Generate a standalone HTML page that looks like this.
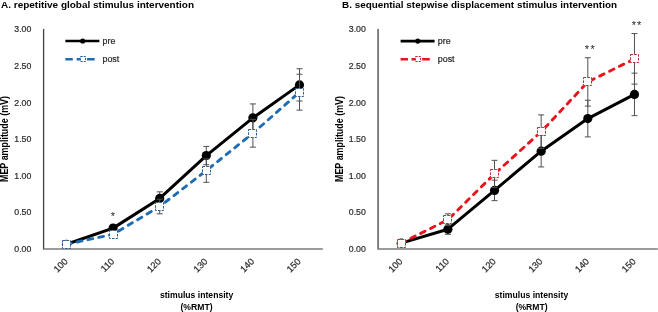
<!DOCTYPE html>
<html><head><meta charset="utf-8"><style>
html,body{margin:0;padding:0;background:#fff;width:658px;height:312px;overflow:hidden}
svg{display:block;will-change:transform}
.t{font-family:"Liberation Sans",sans-serif;font-size:8.9px;fill:#2a2a2a;stroke:#2a2a2a;stroke-width:0.22px}
.ty{font-family:"Liberation Sans",sans-serif;font-size:9.2px;fill:#2a2a2a;stroke:#2a2a2a;stroke-width:0.22px}
.st{font-family:"Liberation Sans",sans-serif;font-size:11px;fill:#222}
.tx{font-family:"Liberation Sans",sans-serif;font-size:9.2px;fill:#2a2a2a;stroke:#2a2a2a;stroke-width:0.22px}
.by{font-family:"Liberation Sans",sans-serif;font-size:10.1px;font-weight:bold;fill:#000}
.b{font-family:"Liberation Sans",sans-serif;font-size:9.8px;font-weight:bold;fill:#000}
</style></head><body>
<svg width="658" height="312" viewBox="0 0 658 312">
<line x1="43.6" y1="28.9" x2="43.6" y2="249.5" stroke="#454545" stroke-width="1.35"/>
<line x1="43.2" y1="249.0" x2="322.8" y2="249.0" stroke="#7a7a7a" stroke-width="1.7"/>
<text x="31.30" y="252.10" text-anchor="end" class="ty" textLength="17" lengthAdjust="spacingAndGlyphs">0.00</text>
<text x="31.30" y="215.47" text-anchor="end" class="ty" textLength="17" lengthAdjust="spacingAndGlyphs">0.50</text>
<text x="31.30" y="178.83" text-anchor="end" class="ty" textLength="17" lengthAdjust="spacingAndGlyphs">1.00</text>
<text x="31.30" y="142.19" text-anchor="end" class="ty" textLength="17" lengthAdjust="spacingAndGlyphs">1.50</text>
<text x="31.30" y="105.56" text-anchor="end" class="ty" textLength="17" lengthAdjust="spacingAndGlyphs">2.00</text>
<text x="31.30" y="68.93" text-anchor="end" class="ty" textLength="17" lengthAdjust="spacingAndGlyphs">2.50</text>
<text x="31.30" y="32.29" text-anchor="end" class="ty" textLength="17" lengthAdjust="spacingAndGlyphs">3.00</text>
<text transform="translate(65.30,259.0) rotate(-45)" text-anchor="end" class="tx" x="0" y="4.3">100</text>
<text transform="translate(111.90,259.0) rotate(-45)" text-anchor="end" class="tx" x="0" y="4.3">110</text>
<text transform="translate(158.50,259.0) rotate(-45)" text-anchor="end" class="tx" x="0" y="4.3">120</text>
<text transform="translate(205.10,259.0) rotate(-45)" text-anchor="end" class="tx" x="0" y="4.3">130</text>
<text transform="translate(251.70,259.0) rotate(-45)" text-anchor="end" class="tx" x="0" y="4.3">140</text>
<text transform="translate(298.30,259.0) rotate(-45)" text-anchor="end" class="tx" x="0" y="4.3">150</text>
<line x1="113.10" y1="225.19" x2="113.10" y2="231.05" stroke="#505050" stroke-width="1"/>
<line x1="110.10" y1="225.19" x2="116.10" y2="225.19" stroke="#505050" stroke-width="1"/>
<line x1="110.10" y1="231.05" x2="116.10" y2="231.05" stroke="#505050" stroke-width="1"/>
<line x1="159.70" y1="191.85" x2="159.70" y2="205.04" stroke="#505050" stroke-width="1"/>
<line x1="156.70" y1="191.85" x2="162.70" y2="191.85" stroke="#505050" stroke-width="1"/>
<line x1="156.70" y1="205.04" x2="162.70" y2="205.04" stroke="#505050" stroke-width="1"/>
<line x1="206.30" y1="146.42" x2="206.30" y2="164.74" stroke="#505050" stroke-width="1"/>
<line x1="203.30" y1="146.42" x2="209.30" y2="146.42" stroke="#505050" stroke-width="1"/>
<line x1="203.30" y1="164.74" x2="209.30" y2="164.74" stroke="#505050" stroke-width="1"/>
<line x1="252.90" y1="103.93" x2="252.90" y2="131.77" stroke="#505050" stroke-width="1"/>
<line x1="249.90" y1="103.93" x2="255.90" y2="103.93" stroke="#505050" stroke-width="1"/>
<line x1="249.90" y1="131.77" x2="255.90" y2="131.77" stroke="#505050" stroke-width="1"/>
<line x1="299.50" y1="68.76" x2="299.50" y2="100.99" stroke="#505050" stroke-width="1"/>
<line x1="296.50" y1="68.76" x2="302.50" y2="68.76" stroke="#505050" stroke-width="1"/>
<line x1="296.50" y1="100.99" x2="302.50" y2="100.99" stroke="#505050" stroke-width="1"/>
<polyline points="66.50,244.24 113.10,228.12 159.70,198.44 206.30,155.58 252.90,117.85 299.50,84.88" fill="none" stroke="#000" stroke-width="3.0" stroke-linejoin="round"/>
<circle cx="66.50" cy="244.24" r="4.6" fill="#000"/>
<circle cx="113.10" cy="228.12" r="4.6" fill="#000"/>
<circle cx="159.70" cy="198.44" r="4.6" fill="#000"/>
<circle cx="206.30" cy="155.58" r="4.6" fill="#000"/>
<circle cx="252.90" cy="117.85" r="4.6" fill="#000"/>
<circle cx="299.50" cy="84.88" r="4.6" fill="#000"/>
<line x1="113.10" y1="231.42" x2="113.10" y2="237.28" stroke="#505050" stroke-width="1"/>
<line x1="110.10" y1="231.42" x2="116.10" y2="231.42" stroke="#505050" stroke-width="1"/>
<line x1="110.10" y1="237.28" x2="116.10" y2="237.28" stroke="#505050" stroke-width="1"/>
<line x1="159.70" y1="199.18" x2="159.70" y2="213.83" stroke="#505050" stroke-width="1"/>
<line x1="156.70" y1="199.18" x2="162.70" y2="199.18" stroke="#505050" stroke-width="1"/>
<line x1="156.70" y1="213.83" x2="162.70" y2="213.83" stroke="#505050" stroke-width="1"/>
<line x1="206.30" y1="158.88" x2="206.30" y2="182.32" stroke="#505050" stroke-width="1"/>
<line x1="203.30" y1="158.88" x2="209.30" y2="158.88" stroke="#505050" stroke-width="1"/>
<line x1="203.30" y1="182.32" x2="209.30" y2="182.32" stroke="#505050" stroke-width="1"/>
<line x1="252.90" y1="119.31" x2="252.90" y2="147.15" stroke="#505050" stroke-width="1"/>
<line x1="249.90" y1="119.31" x2="255.90" y2="119.31" stroke="#505050" stroke-width="1"/>
<line x1="249.90" y1="147.15" x2="255.90" y2="147.15" stroke="#505050" stroke-width="1"/>
<line x1="299.50" y1="74.25" x2="299.50" y2="110.15" stroke="#505050" stroke-width="1"/>
<line x1="296.50" y1="74.25" x2="302.50" y2="74.25" stroke="#505050" stroke-width="1"/>
<line x1="296.50" y1="110.15" x2="302.50" y2="110.15" stroke="#505050" stroke-width="1"/>
<line x1="66.50" y1="244.24" x2="113.10" y2="234.35" stroke="#1f6cb2" stroke-width="2.9" stroke-dasharray="4.9 6.10" stroke-dashoffset="0.05" stroke-linecap="round"/>
<line x1="113.10" y1="234.35" x2="159.70" y2="206.50" stroke="#1f6cb2" stroke-width="2.9" stroke-dasharray="4.9 6.10" stroke-dashoffset="4.45" stroke-linecap="round"/>
<line x1="159.70" y1="206.50" x2="206.30" y2="170.60" stroke="#1f6cb2" stroke-width="2.9" stroke-dasharray="4.9 6.10" stroke-dashoffset="4.05" stroke-linecap="round"/>
<line x1="206.30" y1="170.60" x2="252.90" y2="133.23" stroke="#1f6cb2" stroke-width="2.9" stroke-dasharray="4.9 6.10" stroke-dashoffset="7.55" stroke-linecap="round"/>
<line x1="252.90" y1="133.23" x2="299.50" y2="92.20" stroke="#1f6cb2" stroke-width="2.9" stroke-dasharray="4.9 6.10" stroke-dashoffset="1.55" stroke-linecap="round"/>
<rect x="62.5" y="240.5" width="8" height="8" fill="#fff" stroke="#2e5f92" stroke-width="1" stroke-dasharray="2.6 1.2"/>
<rect x="109.5" y="230.5" width="8" height="8" fill="#fff" stroke="#2e5f92" stroke-width="1" stroke-dasharray="2.6 1.2"/>
<rect x="155.5" y="202.5" width="8" height="8" fill="#fff" stroke="#2e5f92" stroke-width="1" stroke-dasharray="2.6 1.2"/>
<rect x="202.5" y="166.5" width="8" height="8" fill="#fff" stroke="#2e5f92" stroke-width="1" stroke-dasharray="2.6 1.2"/>
<rect x="248.5" y="129.5" width="8" height="8" fill="#fff" stroke="#2e5f92" stroke-width="1" stroke-dasharray="2.6 1.2"/>
<rect x="295.5" y="88.5" width="8" height="8" fill="#fff" stroke="#2e5f92" stroke-width="1" stroke-dasharray="2.6 1.2"/>
<text x="112.9" y="219.6" text-anchor="middle" class="st">*</text>
<line x1="65.4" y1="41" x2="99.4" y2="41" stroke="#000" stroke-width="2.7"/>
<circle cx="82.7" cy="41" r="2.6" fill="#000"/>
<text x="102.5" y="43.8" class="t">pre</text>
<path d="M65.4 59.2H72.8M76.7 59.2H80M87.1 59.2H94.6" stroke="#1f6cb2" stroke-width="2.4"/>
<rect x="80.5" y="56.5" width="5" height="5" fill="#fff" stroke="#2e5f92" stroke-width="1" stroke-dasharray="2.2 1"/>
<text x="102.5" y="61.8" class="t">post</text>
<text x="1" y="7.8" class="b" textLength="193" lengthAdjust="spacingAndGlyphs">A. repetitive global stimulus intervention</text>
<text x="196.6" y="298.3" text-anchor="middle" class="b" textLength="73.4" lengthAdjust="spacingAndGlyphs">stimulus intensity</text>
<text x="196.5" y="309.6" text-anchor="middle" class="b" textLength="32.2" lengthAdjust="spacingAndGlyphs">(%RMT)</text>
<text transform="translate(7.9,182) rotate(-90)" x="0" y="0" class="by" textLength="86" lengthAdjust="spacingAndGlyphs">MEP amplitude (mV)</text>
<line x1="378.1" y1="28.9" x2="378.1" y2="249.5" stroke="#7a7a7a" stroke-width="1.9"/>
<line x1="377.9" y1="249.0" x2="657.8" y2="249.0" stroke="#7a7a7a" stroke-width="1.7"/>
<text x="365.80" y="252.10" text-anchor="end" class="ty" textLength="17" lengthAdjust="spacingAndGlyphs">0.00</text>
<text x="365.80" y="215.47" text-anchor="end" class="ty" textLength="17" lengthAdjust="spacingAndGlyphs">0.50</text>
<text x="365.80" y="178.83" text-anchor="end" class="ty" textLength="17" lengthAdjust="spacingAndGlyphs">1.00</text>
<text x="365.80" y="142.19" text-anchor="end" class="ty" textLength="17" lengthAdjust="spacingAndGlyphs">1.50</text>
<text x="365.80" y="105.56" text-anchor="end" class="ty" textLength="17" lengthAdjust="spacingAndGlyphs">2.00</text>
<text x="365.80" y="68.93" text-anchor="end" class="ty" textLength="17" lengthAdjust="spacingAndGlyphs">2.50</text>
<text x="365.80" y="32.29" text-anchor="end" class="ty" textLength="17" lengthAdjust="spacingAndGlyphs">3.00</text>
<text transform="translate(400.02,259.0) rotate(-45)" text-anchor="end" class="tx" x="0" y="4.3">100</text>
<text transform="translate(446.68,259.0) rotate(-45)" text-anchor="end" class="tx" x="0" y="4.3">110</text>
<text transform="translate(493.32,259.0) rotate(-45)" text-anchor="end" class="tx" x="0" y="4.3">120</text>
<text transform="translate(539.97,259.0) rotate(-45)" text-anchor="end" class="tx" x="0" y="4.3">130</text>
<text transform="translate(586.62,259.0) rotate(-45)" text-anchor="end" class="tx" x="0" y="4.3">140</text>
<text transform="translate(633.27,259.0) rotate(-45)" text-anchor="end" class="tx" x="0" y="4.3">150</text>
<line x1="447.88" y1="224.09" x2="447.88" y2="234.35" stroke="#505050" stroke-width="1"/>
<line x1="444.88" y1="224.09" x2="450.88" y2="224.09" stroke="#505050" stroke-width="1"/>
<line x1="444.88" y1="234.35" x2="450.88" y2="234.35" stroke="#505050" stroke-width="1"/>
<line x1="494.52" y1="180.13" x2="494.52" y2="200.64" stroke="#505050" stroke-width="1"/>
<line x1="491.52" y1="180.13" x2="497.52" y2="180.13" stroke="#505050" stroke-width="1"/>
<line x1="491.52" y1="200.64" x2="497.52" y2="200.64" stroke="#505050" stroke-width="1"/>
<line x1="541.17" y1="135.43" x2="541.17" y2="166.94" stroke="#505050" stroke-width="1"/>
<line x1="538.17" y1="135.43" x2="544.17" y2="135.43" stroke="#505050" stroke-width="1"/>
<line x1="538.17" y1="166.94" x2="544.17" y2="166.94" stroke="#505050" stroke-width="1"/>
<line x1="587.82" y1="100.26" x2="587.82" y2="136.90" stroke="#505050" stroke-width="1"/>
<line x1="584.82" y1="100.26" x2="590.82" y2="100.26" stroke="#505050" stroke-width="1"/>
<line x1="584.82" y1="136.90" x2="590.82" y2="136.90" stroke="#505050" stroke-width="1"/>
<line x1="634.47" y1="73.15" x2="634.47" y2="115.65" stroke="#505050" stroke-width="1"/>
<line x1="631.47" y1="73.15" x2="637.47" y2="73.15" stroke="#505050" stroke-width="1"/>
<line x1="631.47" y1="115.65" x2="637.47" y2="115.65" stroke="#505050" stroke-width="1"/>
<polyline points="401.22,243.14 447.88,229.22 494.52,190.38 541.17,151.18 587.82,118.58 634.47,94.40" fill="none" stroke="#000" stroke-width="3.0" stroke-linejoin="round"/>
<circle cx="401.22" cy="243.14" r="4.6" fill="#000"/>
<circle cx="447.88" cy="229.22" r="4.6" fill="#000"/>
<circle cx="494.52" cy="190.38" r="4.6" fill="#000"/>
<circle cx="541.17" cy="151.18" r="4.6" fill="#000"/>
<circle cx="587.82" cy="118.58" r="4.6" fill="#000"/>
<circle cx="634.47" cy="94.40" r="4.6" fill="#000"/>
<line x1="447.88" y1="213.83" x2="447.88" y2="225.55" stroke="#505050" stroke-width="1"/>
<line x1="444.88" y1="213.83" x2="450.88" y2="213.83" stroke="#505050" stroke-width="1"/>
<line x1="444.88" y1="225.55" x2="450.88" y2="225.55" stroke="#505050" stroke-width="1"/>
<line x1="494.52" y1="160.34" x2="494.52" y2="187.45" stroke="#505050" stroke-width="1"/>
<line x1="491.52" y1="160.34" x2="497.52" y2="160.34" stroke="#505050" stroke-width="1"/>
<line x1="491.52" y1="187.45" x2="497.52" y2="187.45" stroke="#505050" stroke-width="1"/>
<line x1="541.17" y1="114.92" x2="541.17" y2="148.62" stroke="#505050" stroke-width="1"/>
<line x1="538.17" y1="114.92" x2="544.17" y2="114.92" stroke="#505050" stroke-width="1"/>
<line x1="538.17" y1="148.62" x2="544.17" y2="148.62" stroke="#505050" stroke-width="1"/>
<line x1="587.82" y1="57.77" x2="587.82" y2="106.12" stroke="#505050" stroke-width="1"/>
<line x1="584.82" y1="57.77" x2="590.82" y2="57.77" stroke="#505050" stroke-width="1"/>
<line x1="584.82" y1="106.12" x2="590.82" y2="106.12" stroke="#505050" stroke-width="1"/>
<line x1="634.47" y1="33.59" x2="634.47" y2="84.14" stroke="#505050" stroke-width="1"/>
<line x1="631.47" y1="33.59" x2="637.47" y2="33.59" stroke="#505050" stroke-width="1"/>
<line x1="631.47" y1="84.14" x2="637.47" y2="84.14" stroke="#505050" stroke-width="1"/>
<line x1="401.22" y1="243.14" x2="447.88" y2="219.69" stroke="#e8141c" stroke-width="2.9" stroke-dasharray="4.9 6.10" stroke-dashoffset="0.25" stroke-linecap="round"/>
<line x1="447.88" y1="219.69" x2="494.52" y2="173.90" stroke="#e8141c" stroke-width="2.9" stroke-dasharray="4.9 6.10" stroke-dashoffset="8.05" stroke-linecap="round"/>
<line x1="494.52" y1="173.90" x2="541.17" y2="131.77" stroke="#e8141c" stroke-width="2.9" stroke-dasharray="4.9 6.10" stroke-dashoffset="9.15" stroke-linecap="round"/>
<line x1="541.17" y1="131.77" x2="587.82" y2="81.94" stroke="#e8141c" stroke-width="2.9" stroke-dasharray="4.9 6.10" stroke-dashoffset="5.85" stroke-linecap="round"/>
<line x1="587.82" y1="81.94" x2="634.47" y2="58.86" stroke="#e8141c" stroke-width="2.9" stroke-dasharray="4.9 6.10" stroke-dashoffset="8.78" stroke-linecap="round"/>
<rect x="397.5" y="239.5" width="8" height="8" fill="#fff" stroke="#bb2f3a" stroke-width="1" stroke-dasharray="2.6 1.2"/>
<rect x="443.5" y="215.5" width="8" height="8" fill="#fff" stroke="#bb2f3a" stroke-width="1" stroke-dasharray="2.6 1.2"/>
<rect x="490.5" y="169.5" width="8" height="8" fill="#fff" stroke="#bb2f3a" stroke-width="1" stroke-dasharray="2.6 1.2"/>
<rect x="537.5" y="127.5" width="8" height="8" fill="#fff" stroke="#bb2f3a" stroke-width="1" stroke-dasharray="2.6 1.2"/>
<rect x="583.5" y="77.5" width="8" height="8" fill="#fff" stroke="#bb2f3a" stroke-width="1" stroke-dasharray="2.6 1.2"/>
<rect x="630.5" y="54.5" width="8" height="8" fill="#fff" stroke="#bb2f3a" stroke-width="1" stroke-dasharray="2.6 1.2"/>
<text x="586.9" y="52.7" text-anchor="middle" class="st">*</text>
<text x="592.7" y="52.7" text-anchor="middle" class="st">*</text>
<text x="633.8" y="28.7" text-anchor="middle" class="st">*</text>
<text x="639.1" y="28.7" text-anchor="middle" class="st">*</text>
<line x1="400.6" y1="41.1" x2="434.6" y2="41.1" stroke="#000" stroke-width="2.7"/>
<circle cx="417.8" cy="41.1" r="2.6" fill="#000"/>
<text x="437.8" y="44.2" class="t">pre</text>
<path d="M400.6 59.2H408M411.5 59.2H415M422.2 59.2H429.8" stroke="#e8141c" stroke-width="2.5"/>
<rect x="415.5" y="56.5" width="5" height="5" fill="#fff" stroke="#bb2f3a" stroke-width="1" stroke-dasharray="2.2 1"/>
<text x="437.8" y="62" class="t">post</text>
<text x="342" y="7.8" class="b" textLength="275" lengthAdjust="spacingAndGlyphs">B. sequential stepwise displacement stimulus intervention</text>
<text x="531.5" y="298.3" text-anchor="middle" class="b" textLength="73.4" lengthAdjust="spacingAndGlyphs">stimulus intensity</text>
<text x="531.6" y="309.6" text-anchor="middle" class="b" textLength="31.9" lengthAdjust="spacingAndGlyphs">(%RMT)</text>
<text transform="translate(342.8,182) rotate(-90)" x="0" y="0" class="by" textLength="86" lengthAdjust="spacingAndGlyphs">MEP amplitude (mV)</text>
</svg>
</body></html>
